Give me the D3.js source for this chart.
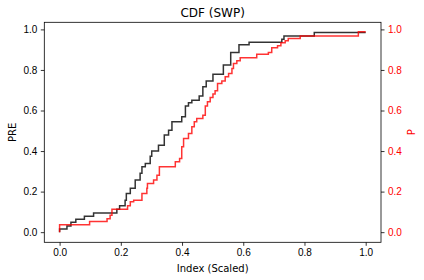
<!DOCTYPE html>
<html>
<head>
<meta charset="utf-8">
<script src="https://cdn.jsdelivr.net/npm/d3@7.9.0/dist/d3.min.js"></script>
<style>
  body { margin: 0; background: #fff; }
  svg { display: block; font-family: "DejaVu Sans", sans-serif; }
</style>
</head>
<body>
<svg id="chart" width="424" height="280"></svg>
<script>
// step points (x scaled index, cumulative fraction)
const preX = [0, 0, 0.024, 0.037, 0.053, 0.081, 0.111, 0.187, 0.196, 0.214,
  0.218, 0.231, 0.247, 0.263, 0.269, 0.280, 0.296, 0.301, 0.323, 0.342,
  0.356, 0.367, 0.399, 0.411, 0.421, 0.432, 0.456, 0.468, 0.479, 0.501,
  0.535, 0.559, 0.586, 0.619, 0.726, 0.733, 0.832, 1.0];
const preY = [0, 0.015, 0.031, 0.049, 0.064, 0.079, 0.095, 0.113, 0.130, 0.158,
  0.191, 0.216, 0.257, 0.290, 0.322, 0.339, 0.375, 0.400, 0.429, 0.479,
  0.503, 0.544, 0.569, 0.622, 0.638, 0.651, 0.671, 0.717, 0.746, 0.779,
  0.824, 0.886, 0.924, 0.936, 0.952, 0.967, 0.985, 0.985];

const pX = [0, 0, 0.098, 0.155, 0.165, 0.171, 0.222, 0.231, 0.242, 0.269,
  0.285, 0.287, 0.307, 0.318, 0.326, 0.378, 0.392, 0.399, 0.405, 0.421,
  0.432, 0.440, 0.448, 0.468, 0.476, 0.483, 0.492, 0.501, 0.508, 0.516,
  0.530, 0.541, 0.552, 0.563, 0.568, 0.579, 0.590, 0.644, 0.682, 0.693,
  0.712, 0.723, 0.737, 0.747, 0.786, 0.976, 1.0];
const pY = [0, 0.036, 0.053, 0.066, 0.084, 0.113, 0.130, 0.150, 0.158, 0.191,
  0.216, 0.240, 0.257, 0.281, 0.322, 0.347, 0.363, 0.421, 0.462, 0.487,
  0.520, 0.544, 0.561, 0.577, 0.622, 0.643, 0.664, 0.681, 0.697, 0.733,
  0.746, 0.766, 0.783, 0.807, 0.832, 0.845, 0.860, 0.877, 0.886, 0.909,
  0.919, 0.934, 0.944, 0.955, 0.968, 0.988, 0.988];

const xTicks = [0, 0.2, 0.4, 0.6, 0.8, 1.0];
const yTicks = [0, 0.2, 0.4, 0.6, 0.8, 1.0];

const plotL = 44.3, plotR = 381, plotT = 22.3, plotB = 242.3;

const svg = d3.select("#chart");

const x = d3.scaleLinear().domain([-0.05, 1.05]).range([plotL, plotR]);
const yL = d3.scaleLinear().domain([-0.05, 1.035]).range([plotB, plotT]);
const yR = d3.scaleLinear().domain([-0.05, 1.035]).range([plotB, plotT]);

function styleAxis(g, color) {
  g.select(".domain").remove();
  g.selectAll(".tick line").attr("stroke", "#000").attr("stroke-width", 0.8);
  g.selectAll(".tick text").attr("fill", color).style("font-size", "10px");
}

// axes
svg.append("g")
  .attr("transform", `translate(0,${plotB})`)
  .call(d3.axisBottom(x).tickValues(xTicks).tickFormat(d3.format(".1f")).tickSize(3.5).tickPadding(3.5))
  .call(g => styleAxis(g, "#000"));

svg.append("g")
  .attr("transform", `translate(${plotL},0)`)
  .call(d3.axisLeft(yL).tickValues(yTicks).tickFormat(d3.format(".1f")).tickSize(3.5).tickPadding(3.5))
  .call(g => styleAxis(g, "#000"));

svg.append("g")
  .attr("transform", `translate(${plotR},0)`)
  .call(d3.axisRight(yR).tickValues(yTicks).tickFormat(d3.format(".1f")).tickSize(3.5).tickPadding(3.5))
  .call(g => styleAxis(g, "red"));

// step lines
const lineL = d3.line().x(d => x(d[0])).y(d => yL(d[1])).curve(d3.curveStepAfter);
const lineR = d3.line().x(d => x(d[0])).y(d => yR(d[1])).curve(d3.curveStepAfter);

svg.append("path")
  .attr("d", lineL(d3.zip(preX, preY)))
  .attr("fill", "none")
  .attr("stroke", "#000")
  .attr("stroke-opacity", 0.8)
  .attr("stroke-width", 1.5);

svg.append("path")
  .attr("d", lineR(d3.zip(pX, pY)))
  .attr("fill", "none")
  .attr("stroke", "red")
  .attr("stroke-opacity", 0.8)
  .attr("stroke-width", 1.5);

// frame
svg.append("rect")
  .attr("x", plotL).attr("y", plotT)
  .attr("width", plotR - plotL).attr("height", plotB - plotT)
  .attr("fill", "none").attr("stroke", "#000").attr("stroke-width", 0.8);

// labels
svg.append("text")
  .attr("x", (plotL + plotR) / 2).attr("y", 16.5)
  .attr("text-anchor", "middle").style("font-size", "12px")
  .text("CDF (SWP)");

svg.append("text")
  .attr("x", (plotL + plotR) / 2).attr("y", 271.5)
  .attr("text-anchor", "middle").style("font-size", "10px")
  .text("Index (Scaled)");

svg.append("text")
  .attr("transform", `translate(15.5,${(plotT + plotB) / 2}) rotate(-90)`)
  .attr("text-anchor", "middle").style("font-size", "10px")
  .text("PRE");

svg.append("text")
  .attr("transform", `translate(414.5,${(plotT + plotB) / 2}) rotate(-90)`)
  .attr("text-anchor", "middle").style("font-size", "10px")
  .attr("fill", "red")
  .text("P");
</script>
</body>
</html>
